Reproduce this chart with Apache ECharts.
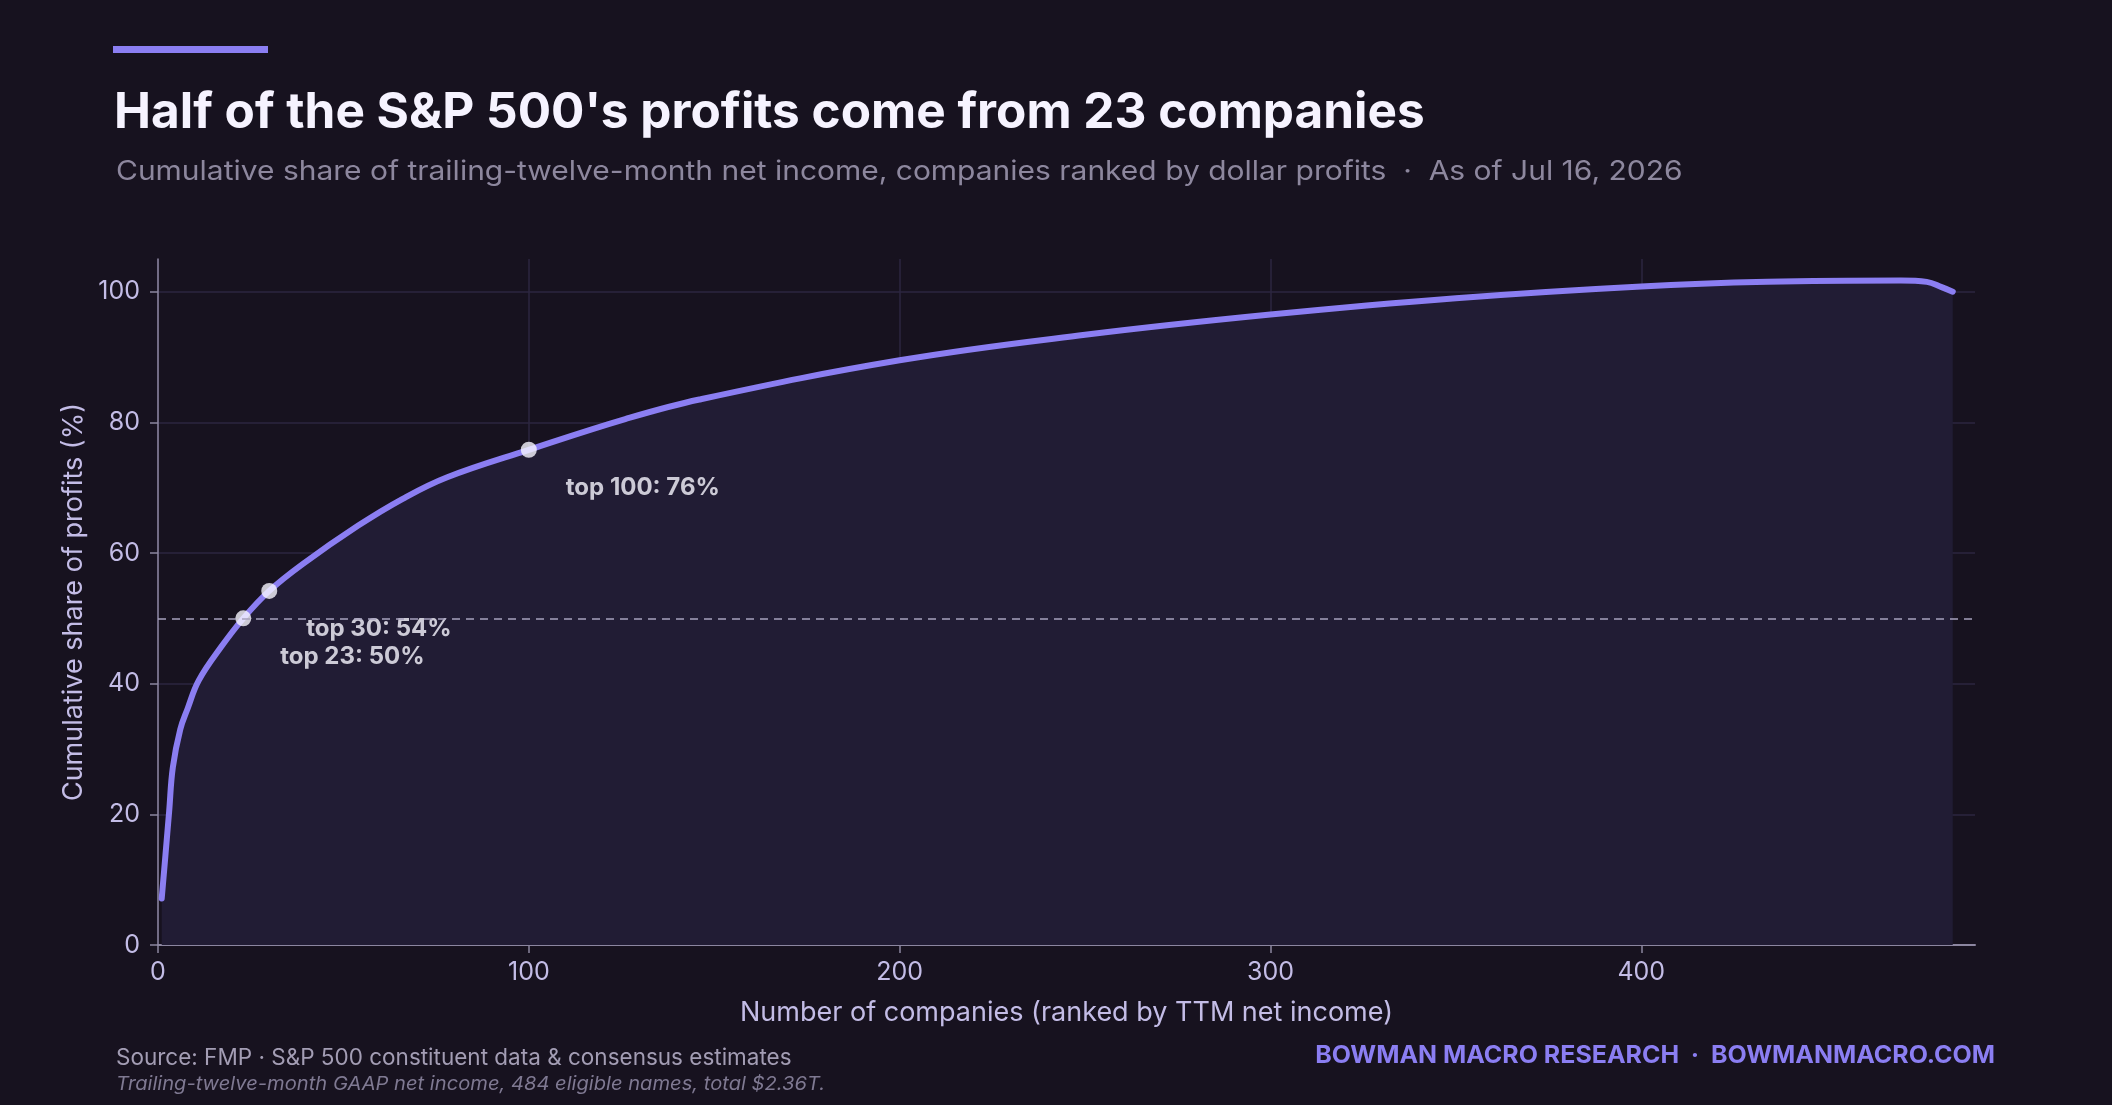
<!DOCTYPE html>
<html>
<head>
<meta charset="utf-8">
<title>S&P 500 profit concentration</title>
<script src="https://cdn.jsdelivr.net/npm/echarts@6/dist/echarts.min.js"></script>
<style>
  html, body { margin: 0; padding: 0; background: #17121f; }
  #chartArea { width: 2112px; height: 1105px; }
</style>
</head>
<body>
<div id="chartArea"></div>
<script>
// companies ranked by TTM net income -> cumulative share of profits (%)
let ranks = [1, 2, 3, 4, 6, 8, 11, 17, 23, 30, 39, 54, 66, 78, 100, 126, 146, 200, 250, 300, 350, 400, 434, 470, 477, 481, 484];
let shares = [7.1, 13.7, 20.4, 27.2, 33.0, 36.2, 40.5, 45.6, 50.0, 54.2, 58.3, 64.2, 68.3, 71.6, 75.8, 80.5, 83.5, 89.5, 93.4, 96.5, 99.0, 100.8, 101.5, 101.7, 101.5, 100.7, 100.0];

let markRanks = [23, 30, 100];
let markShares = [50.0, 54.2, 75.8];
let markLabels = ['top 23: 50%', 'top 30: 54%', 'top 100: 76%'];

let xTicks = [0, 100, 200, 300, 400];
let yTicks = [0, 20, 40, 60, 80, 100];

let font = 'Inter, "Noto Sans", sans-serif';
let accent = '#8b7ef2';
let bg = '#17121f';
let gridColor = '#2c2640';
let axisColor = '#8c86a0';
let labelColor = '#c3bce6';

let myChart = echarts.init(document.getElementById('chartArea'));

let lineData = [];
for (let i = 0; i < ranks.length; i++) {
    lineData.push([ranks[i], shares[i]]);
}
let markData = [];
for (let i = 0; i < markRanks.length; i++) {
    markData.push({value: [markRanks[i], markShares[i]], label: {formatter: markLabels[i]}});
}

let option = {
    backgroundColor: bg,
    animation: false,
    textStyle: {fontFamily: font},
    grid: {left: 158, right: 137, top: 259, bottom: 160},
    graphic: [
        {type: 'rect', left: 113, top: 46, shape: {width: 155, height: 7}, style: {fill: accent}},
        {type: 'text', left: 114, top: 88, style: {
            text: "Half of the S&P 500's profits come from 23 companies",
            font: 'bold 49.5px ' + font, fill: '#f6f3ff'}},
        {type: 'text', left: 116, top: 158, scaleX: 1.11, style: {
            text: 'Cumulative share of trailing-twelve-month net income, companies ranked by dollar profits  \u00b7  As of Jul 16, 2026',
            font: '27px ' + font, fill: '#8d879e'}},
        {type: 'text', left: 116, top: 1047, style: {
            text: 'Source: FMP \u00b7 S&P 500 constituent data & consensus estimates',
            font: '22.5px ' + font, fill: '#a39db4'}},
        {type: 'text', left: 116, top: 1075, scaleX: 1.06, style: {
            text: 'Trailing-twelve-month GAAP net income, 484 eligible names, total $2.36T.',
            font: 'italic 19px ' + font, fill: '#7f7992'}},
        {type: 'text', right: 117, top: 1044, scaleX: 1.04, style: {
            text: 'BOWMAN MACRO RESEARCH  \u00b7  BOWMANMACRO.COM',
            font: 'bold 24px ' + font, fill: accent}}
    ],
    xAxis: {
        type: 'value',
        min: 0,
        max: 490,
        interval: 100,
        name: 'Number of companies (ranked by TTM net income)',
        nameLocation: 'middle',
        nameGap: 54,
        nameTextStyle: {color: labelColor, fontSize: 27},
        axisLine: {lineStyle: {color: axisColor, width: 2}},
        axisTick: {show: true, length: 8, lineStyle: {color: axisColor, width: 1.5}, customValues: xTicks},
        axisLabel: {color: labelColor, fontSize: 25, margin: 15, customValues: xTicks},
        splitLine: {show: true, lineStyle: {color: gridColor, width: 1.5}}
    },
    yAxis: {
        type: 'value',
        min: 0,
        max: 105,
        interval: 20,
        name: 'Cumulative share of profits (%)',
        nameLocation: 'middle',
        nameGap: 69,
        nameTextStyle: {color: labelColor, fontSize: 27},
        axisLine: {show: true, lineStyle: {color: axisColor, width: 1.5}},
        axisTick: {show: true, length: 8, lineStyle: {color: axisColor, width: 1.5}, customValues: yTicks},
        axisLabel: {color: labelColor, fontSize: 25, margin: 18, customValues: yTicks},
        splitLine: {show: true, lineStyle: {color: gridColor, width: 1.5}}
    },
    series: [
        {
            type: 'line',
            data: lineData,
            smooth: 0.4,
            showSymbol: false,
            lineStyle: {color: accent, width: 6, cap: 'round'},
            areaStyle: {color: '#211c34', opacity: 1},
            markLine: {
                silent: true,
                symbol: 'none',
                label: {show: false},
                lineStyle: {color: '#a7a1bd', type: [8, 6], width: 1.5},
                data: [{yAxis: 50}]
            },
            z: 2
        },
        {
            type: 'scatter',
            data: markData,
            symbolSize: 16,
            itemStyle: {color: '#f8f6ff'},
            label: {
                show: true,
                position: [45, 46],
                align: 'left',
                verticalAlign: 'middle',
                color: '#f8f6ff',
                fontSize: 24,
                fontWeight: 'bold'
            },
            z: 3
        }
    ]
};

myChart.setOption(option);
</script>
</body>
</html>
